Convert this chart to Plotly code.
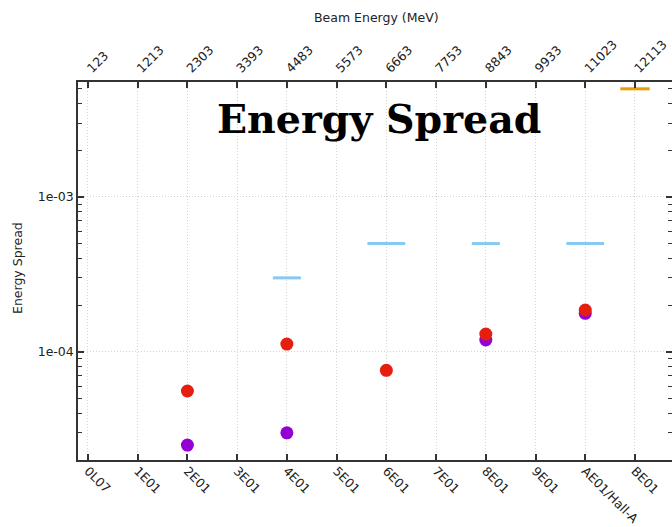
import plotly.graph_objects as go

# ---- data ----
stations = ["0L07", "1E01", "2E01", "3E01", "4E01", "5E01", "6E01", "7E01",
            "8E01", "9E01", "AE01/Hall-A", "BE01"]
beam_energy = [123, 1213, 2303, 3393, 4483, 5573, 6663, 7753, 8843, 9933, 11023, 12113]

purple_x = ["2E01", "4E01", "8E01", "AE01/Hall-A"]
purple_y = [2.49e-5, 2.99e-5, 1.19e-4, 1.77e-4]

red_x = ["2E01", "4E01", "6E01", "8E01", "AE01/Hall-A"]
red_y = [5.57e-5, 1.12e-4, 7.58e-5, 1.30e-4, 1.86e-4]

blue_x = ["4E01", "6E01", "8E01", "AE01/Hall-A"]
blue_y = [3.0e-4, 5.0e-4, 5.0e-4, 5.0e-4]

orange_x = ["BE01"]
orange_y = [5.0e-3]

ytick_vals = [1e-4, 1e-3]
ytick_text = ["1e-04", "1e-03"]

# ---- style ----
blue_sizes = [20, 27, 20, 27]
W, H = 672, 527
L, R, T, B = 78, 0, 82, 67
plot_w = W - L - R
plot_h = H - T - B

def px_x(p):
    return (p - L) / plot_w

def px_y(p):
    return (H - B - p) / plot_h

minor_vals = [m * 10 ** e for e in (-5, -4, -3) for m in range(2, 10)]
tick_font = dict(family="DejaVu Sans", size=12.5, color="#222222")
axis_color = "#333333"
grid_color = "#d4d4d4"
grid_dash = "1px,2px"
yr = [-4.700, -2.257]

fig = go.Figure()

fig.add_trace(go.Scatter(
    x=blue_x, y=blue_y, mode="markers",
    marker=dict(symbol="line-ew", size=blue_sizes,
                line=dict(color="#56B4E9", width=3)),
    showlegend=False, hoverinfo="skip"))
fig.add_trace(go.Scatter(
    x=orange_x, y=orange_y, mode="markers",
    marker=dict(symbol="line-ew", size=21,
                line=dict(color="#E69F00", width=3)),
    showlegend=False, hoverinfo="skip", cliponaxis=False))
fig.add_trace(go.Scatter(
    x=purple_x, y=purple_y, mode="markers",
    marker=dict(symbol="circle", size=13, color="#9400D3"),
    showlegend=False))
fig.add_trace(go.Scatter(
    x=red_x, y=red_y, mode="markers",
    marker=dict(symbol="circle", size=13, color="#E51E10"),
    showlegend=False))
# invisible traces for top / right axes
fig.add_trace(go.Scatter(
    x=[0], y=[1e-4], xaxis="x2", yaxis="y2", mode="markers",
    marker=dict(opacity=0), showlegend=False, hoverinfo="skip"))

xr = [-0.2, -0.2 + plot_w / 49.73]

fig.update_layout(
    width=W, height=H,
    margin=dict(l=L, r=R, t=T, b=B, pad=0, autoexpand=False),
    paper_bgcolor="white", plot_bgcolor="white",
    font=dict(family="DejaVu Sans", color="#222222"),
    xaxis=dict(
        type="category", categoryorder="array", categoryarray=stations,
        range=xr, tickangle=45, tickfont=tick_font, automargin=False,
        ticklabelstandoff=-3,
        showline=True, linecolor=axis_color, linewidth=1.5,
        ticks="inside", ticklen=6, tickwidth=1.5, tickcolor=axis_color,
        showgrid=True, gridcolor=grid_color, griddash=grid_dash, gridwidth=1,
        zeroline=False, mirror=False,
    ),
    xaxis2=dict(
        overlaying="x", side="top", range=xr, automargin=False,
        tickmode="array", tickvals=list(range(len(beam_energy))),
        ticktext=[str(v) for v in beam_energy],
        tickangle=-45, tickfont=tick_font,
        showline=True, linecolor=axis_color, linewidth=1.5,
        ticks="inside", ticklen=6, tickwidth=1.5, tickcolor=axis_color,
        showgrid=False, zeroline=False,
    ),
    yaxis=dict(
        type="log", range=yr, automargin=False,
        tickmode="array", tickvals=ytick_vals, ticktext=ytick_text,
        tickfont=tick_font,
        showline=True, linecolor=axis_color, linewidth=1.5, mirror=False,
        ticks="inside", ticklen=6, tickwidth=1.5, tickcolor=axis_color,
        showgrid=True, gridcolor=grid_color, griddash=grid_dash, gridwidth=1,
        minor=dict(tickmode="array", tickvals=minor_vals, ticks="inside",
                   ticklen=4, tickwidth=1, tickcolor=axis_color, showgrid=False),
        zeroline=False,
    ),
    yaxis2=dict(
        type="log", range=yr, automargin=False, overlaying="y", side="right",
        tickmode="array", tickvals=ytick_vals, showticklabels=False,
        showline=False, showgrid=False, zeroline=False,
        ticks="inside", ticklen=6, tickwidth=1.5, tickcolor=axis_color,
        minor=dict(tickmode="array", tickvals=minor_vals, ticks="inside",
                   ticklen=4, tickwidth=1, tickcolor=axis_color, showgrid=False),
    ),
    annotations=[
        dict(text="Energy Spread", xref="paper", yref="paper",
             x=px_x(379), y=px_y(119), xanchor="center", yanchor="middle",
             showarrow=False,
             font=dict(family="DejaVu Serif", size=39.5, weight="bold", color="black")),
        dict(text="Energy Spread", xref="paper", yref="paper",
             x=px_x(17), y=px_y(268), xanchor="center", yanchor="middle",
             textangle=-90, showarrow=False,
             font=dict(family="DejaVu Sans", size=12.5, color="#222222")),
        dict(text="Beam Energy (MeV)", xref="paper", yref="paper",
             x=px_x(376), y=px_y(17), xanchor="center", yanchor="middle",
             showarrow=False,
             font=dict(family="DejaVu Sans", size=12.5, color="#222222")),
    ],
)

fig.write_html("out.html")
